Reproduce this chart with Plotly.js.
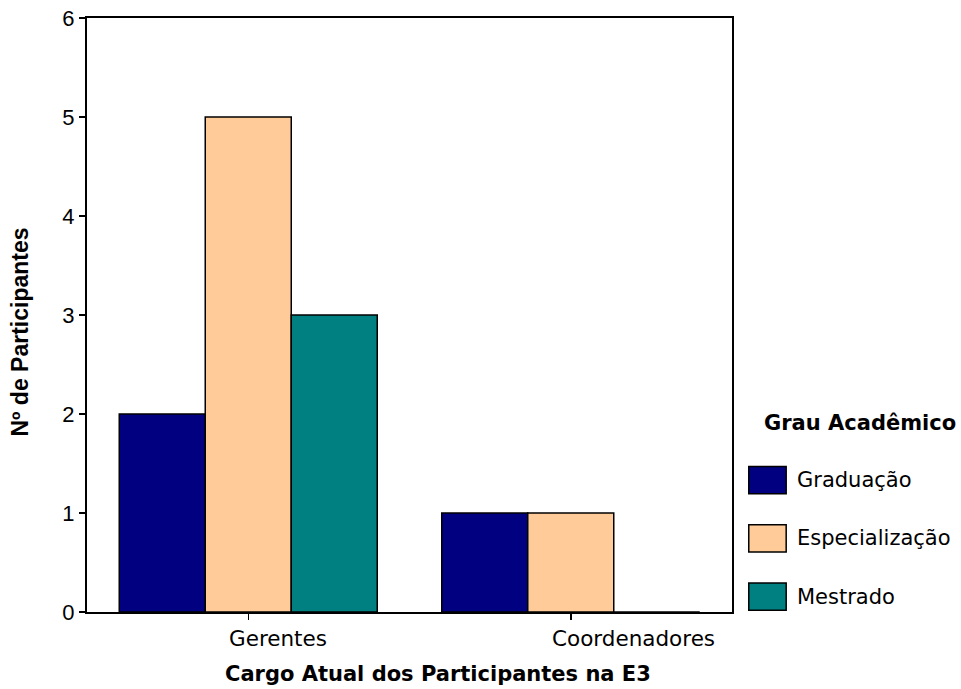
<!DOCTYPE html>
<html>
<head>
<meta charset="utf-8">
<script src="https://cdn.plot.ly/plotly-3.0.1.min.js"></script>
<style>
  html, body { margin: 0; padding: 0; background: #fff; }
  #chart { width: 961px; height: 689px; }
</style>
</head>
<body>
<div id="chart"></div>
<script>
// Cargo atual x grau acadêmico (nº de participantes)
const categories = ['Gerentes', 'Coordenadores'];
const seriesNames = ['Graduação', 'Especialização', 'Mestrado'];
const graduacao = [2, 1];
const especializacao = [5, 1];
const mestrado = [3, 0];
const seriesColors = ['#000080', '#FFCC99', '#008080'];
const yTicks = [0, 1, 2, 3, 4, 5, 6];

const sansWide = 'Verdana, "DejaVu Sans", sans-serif';
const sansArial = 'Arial, "Liberation Sans", sans-serif';

const seriesValues = [graduacao, especializacao, mestrado];
const traces = seriesValues.map((vals, i) => ({
  type: 'bar',
  name: seriesNames[i],
  x: categories,
  y: vals,
  marker: { color: seriesColors[i], line: { color: '#000', width: 1.5 } },
  hoverinfo: 'skip',
  showlegend: false
}));

const shapes = [];
const annotations = [];

// Category labels sit slightly right of their tick, left-aligned
categories.forEach(cat => {
  annotations.push({
    xref: 'x', yref: 'paper', x: cat, y: -0.044,
    xanchor: 'left', yanchor: 'middle', xshift: -21, showarrow: false,
    text: cat, font: { family: sansWide, size: 21.5, color: '#000' }
  });
});

// Legend: swatches + labels to the right of the plot
const swatchTop = [0.245, 0.147, 0.049];
const swatchH = 0.046;
seriesNames.forEach((name, i) => {
  shapes.push({
    type: 'rect', xref: 'paper', yref: 'paper',
    x0: 1.026, x1: 1.084, y0: swatchTop[i] - swatchH, y1: swatchTop[i],
    fillcolor: seriesColors[i], line: { color: '#000', width: 1.5 }
  });
  annotations.push({
    xref: 'paper', yref: 'paper', x: 1.098, y: swatchTop[i] - swatchH / 2,
    xanchor: 'left', yanchor: 'middle', showarrow: false,
    text: name, font: { family: sansWide, size: 21, color: '#000' }
  });
});
annotations.push({
  xref: 'paper', yref: 'paper', x: 1.198, y: 0.318,
  xanchor: 'center', yanchor: 'middle', showarrow: false,
  text: '<b>Grau Acadêmico</b>', font: { family: sansWide, size: 21, color: '#000' }
});

// Axis titles
annotations.push({
  xref: 'paper', yref: 'paper', x: 0.544, y: -0.105,
  xanchor: 'center', yanchor: 'middle', showarrow: false,
  text: '<b>Cargo Atual dos Participantes na E3</b>',
  font: { family: sansWide, size: 21, color: '#000' }
});
annotations.push({
  xref: 'paper', yref: 'paper', x: -0.104, y: 0.472,
  xanchor: 'center', yanchor: 'middle', showarrow: false, textangle: -90,
  text: '<b>Nº de Participantes</b>',
  font: { family: sansArial, size: 23, color: '#000' }
});

const layout = {
  width: 961, height: 689,
  margin: { l: 87, r: 229, t: 18, b: 77 },
  paper_bgcolor: '#fff', plot_bgcolor: '#fff',
  barmode: 'group', bargap: 0.2, bargroupgap: 0,
  showlegend: false,
  xaxis: {
    type: 'category', range: [-0.5, 1.5],
    showline: true, linecolor: '#000', linewidth: 2, mirror: true,
    ticks: 'outside', ticklen: 6, tickwidth: 1.5, tickcolor: '#000',
    showticklabels: false,
    showgrid: false, zeroline: false
  },
  yaxis: {
    range: [0, 6], tickvals: yTicks, ticktext: yTicks.map(String),
    showline: true, linecolor: '#000', linewidth: 2, mirror: true,
    ticks: 'outside', ticklen: 6, tickwidth: 1.5, tickcolor: '#000',
    showgrid: false, zeroline: false,
    tickfont: { family: sansArial, size: 22, color: '#000' }
  },
  shapes: shapes,
  annotations: annotations
};

Plotly.newPlot('chart', traces, layout, { staticPlot: true, displayModeBar: false });
</script>
</body>
</html>
